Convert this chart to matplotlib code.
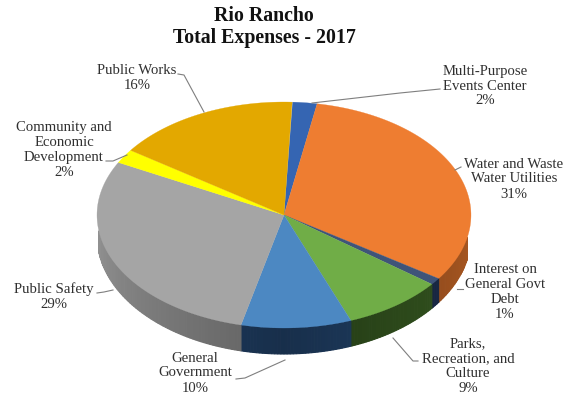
import numpy as np
import matplotlib
matplotlib.use('Agg')
import matplotlib.pyplot as plt

plt.rcParams['font.family'] = ['Liberation Serif', 'DejaVu Serif']

# slices run clockwise, beginning at the top of the pie
names = ['Multi-Purpose\nEvents Center', 'Water and Waste\nWater Utilities',
         'Interest on\nGeneral Govt\nDebt', 'Parks,\nRecreation, and\nCulture',
         'General\nGovernment', 'Public Safety',
         'Community and\nEconomic\nDevelopment', 'Public Works']
values = [2, 31, 1, 9, 10, 29, 2, 16]

top_colors = ['#3565B2', '#EE7D31', '#3F5479', '#70AD47',
              '#4C88C2', '#A5A5A5', '#FFFF00', '#E3A800']
side_colors = ['#24437A', '#8F4A1C', '#17253F', '#2D4A1B',
               '#1E3C60', '#7C7C7C', '#999900', '#8A6700']

START = 2.5
CX, CY, RX, RY = 284, 215, 187, 113
BOTTOM_CY, BOTTOM_RY = 236, 118
WALL_FROM, WALL_TO = 98, 262


def skew(t):
    # the nearer right-hand side of the tilted pie looks a little stretched
    return t + np.where(t < 193, 3.2 * np.sin(np.radians(t * 180 / 193)), 0)


def top_edge(t):
    t = np.radians(skew(t))
    return CX + RX * np.sin(t), CY - RY * np.cos(t)


def bottom_edge(t):
    t = np.radians(skew(t))
    return CX + RX * np.sin(t), BOTTOM_CY - BOTTOM_RY * np.cos(t)


fig = plt.figure(figsize=(5.7, 3.96), dpi=100)
ax = fig.add_axes([0, 0, 1, 1])
ax.set_xlim(0, 570)
ax.set_ylim(396, 0)
ax.axis('off')

edges = START + np.cumsum([0] + values) * 3.6

# side wall first, built from thin strips so it can darken towards the front
for i in range(len(values)):
    a, b = max(edges[i], WALL_FROM), min(edges[i + 1], WALL_TO)
    if b <= a:
        continue
    steps = np.arange(a, b + 1, 1.0)
    steps[-1] = b
    for s, e in zip(steps[:-1], steps[1:]):
        shade = 0.78 + 0.38 * abs((s + e) / 2 - 180) / 82
        color = np.clip(np.array(matplotlib.colors.to_rgb(side_colors[i])) * shade, 0, 1)
        x1, y1 = top_edge(np.array([s, e]))
        x2, y2 = bottom_edge(np.array([e, s]))
        ax.fill(np.r_[x1, x2], np.r_[y1, y2], color=color, lw=0.8)

# top face
for i in range(len(values)):
    t = np.linspace(edges[i], edges[i + 1], 80)
    x, y = top_edge(t)
    ax.fill(np.r_[CX, x], np.r_[CY, y], color=top_colors[i], lw=0.2)

# leader lines
leaders = [[(440, 89), (400, 93), (312, 103)],
           [(455, 170), (461, 167)],
           [(457, 289), (463, 289)],
           [(393, 338), (413, 361), (418, 361)],
           [(236, 379), (245, 378), (285, 360)],
           [(97, 293), (104, 292), (113, 290)],
           [(106, 161), (113, 161), (127, 155)],
           [(178, 74), (184, 75), (204, 112)]]
for pts in leaders:
    px, py = zip(*pts)
    ax.plot(px, py, color='#7f7f7f', lw=0.8)

label_pos = [(485, 86), (514, 179), (505, 292), (468, 366),
             (195, 373), (54, 297), (64, 150), (137, 78)]
for name, val, (lx, ly) in zip(names, values, label_pos):
    ax.text(lx, ly, f'{name}\n{val}%', ha='center', va='center',
            fontsize=10.6, color='#303030', linespacing=1.2)

ax.text(264, 27, 'Rio Rancho\nTotal Expenses - 2017', ha='center', va='center',
        fontsize=14.3, fontweight='bold', color='#111111', linespacing=1.07)

fig.savefig('out.png', dpi=100)
